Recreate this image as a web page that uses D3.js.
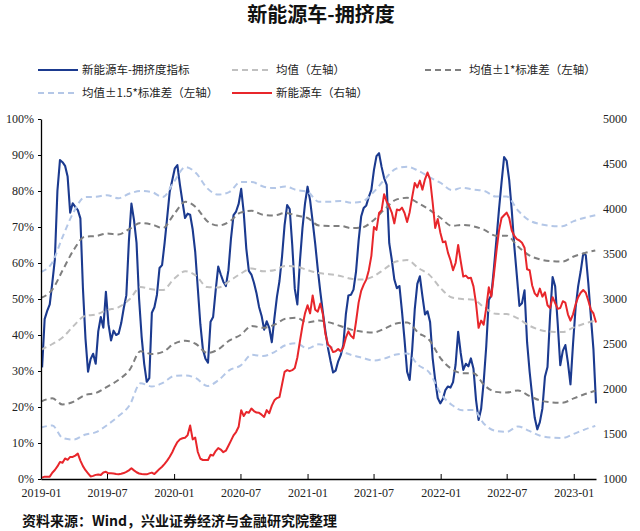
<!DOCTYPE html>
<html>
<head>
<meta charset="utf-8">
<script src="https://cdn.jsdelivr.net/npm/d3@7"></script>
<style>
  body { margin: 0; background: #fff; }
  svg { display: block; }
</style>
</head>
<body>
<div id="chart"></div>
<script>
// weekly series, first week ending 2019-01-04
var weekStart = "2019-01-04";

// 新能源车-拥挤度指标 (%), left axis
var crowding = [
  31, 44.4, 46.7, 48.5, 54.5, 61, 80, 88.6, 88, 87,
  84, 74, 76.6, 75.6, 74.7, 72.4, 53, 39, 29.8, 33.3,
  34.8, 32, 41, 45, 42, 52, 43, 38.5, 41.2, 40,
  40.4, 43.3, 47.5, 51, 66, 76.5, 72, 65.6, 50, 39.5,
  32, 27, 28, 46.2, 47.7, 51.2, 58.6, 59.4, 65.6, 72.6,
  79.8, 83, 86.3, 87.2, 81.7, 77, 72.5, 73.7, 73.4, 69.3,
  63, 53, 43, 36, 33.4, 32.3, 43.7, 45, 52.4, 59,
  56.8, 54.8, 53.6, 58, 66.8, 73.3, 74.3, 76.4, 80.6, 74,
  64, 57.8, 56.8, 54.5, 51.6, 47.8, 45.3, 41.5, 43.8, 42,
  38, 44.6, 50.6, 55, 61.8, 70.5, 76.1, 75, 65, 52.8,
  48.5, 60.4, 69.6, 76.5, 81.2, 77.4, 71.5, 65.3, 58.3, 52,
  46.3, 41, 36.4, 32.8, 29.6, 30.1, 32.7, 34.4, 37.2, 45.7,
  51, 51.2, 52.6, 57.7, 66.2, 72.9, 75.3, 76, 78.4, 80.3,
  85.8, 89.7, 90.5, 86.7, 83.6, 81.7, 65.5, 60.9, 55.4, 53,
  53.6, 46.5, 38.6, 29.8, 27.5, 36, 47.2, 54.2, 56.3, 50.8,
  45.7, 46.6, 43.6, 33.6, 27.5, 22.5, 21, 22.2, 24.7, 25.7,
  25.4, 26.9, 31.8, 40.9, 35, 30.3, 32, 31.3, 33.5, 30.6,
  22, 16.4, 19.5, 27, 36.8, 49.7, 51.1, 58.5, 66.6, 74.9,
  82.4, 89.4, 88.4, 83, 74.6, 64.6, 56.4, 48.1, 48.8, 52.4,
  38, 29.8, 23, 17, 13.8, 15.8, 19.6, 28.4, 31.1, 45.2,
  56.1, 53.5, 43.2, 31.6, 35.6, 37.2, 32.3, 26.3, 37.5, 47.5,
  53.5, 57.7, 62.6, 62.2, 54.3, 45, 36, 21
];

// 新能源车 index, right axis
var nevIndex = [
  1015, 1026, 1026, 1026, 1070, 1100, 1140, 1190, 1180, 1228,
  1213, 1245, 1245, 1260, 1282, 1205, 1143, 1098, 1063, 1028,
  1035, 1046, 1051, 1044, 1073, 1080, 1063, 1063, 1062, 1056,
  1053, 1059, 1066, 1079, 1096, 1119, 1096, 1075, 1061, 1055,
  1052, 1052, 1062, 1071, 1055, 1083, 1112, 1136, 1168, 1204,
  1247, 1297, 1359, 1410, 1440, 1453, 1459, 1485, 1595, 1440,
  1460, 1300, 1225, 1211, 1211, 1211, 1270, 1260, 1310, 1344,
  1327, 1298, 1314, 1370, 1426, 1485, 1522, 1580, 1765, 1700,
  1745, 1736, 1783, 1755, 1738, 1735, 1715, 1690, 1765, 1730,
  1815, 1874, 1899, 1910, 2050, 2190, 2210, 2198, 2209, 2234,
  2350, 2530, 2700, 2840, 2930, 2840, 3040, 2880, 2860, 2950,
  2830, 2610, 2495, 2470, 2410, 2420, 2445, 2420, 2460, 2570,
  2640, 2590, 2563, 2750, 2960, 3090, 3160, 3215, 3320, 3480,
  3800, 3767, 3955, 3985, 4165, 4080, 4030, 3960, 3840, 3995,
  3985, 4015, 3955, 3855, 3965, 4135, 4290, 4240, 4315, 4215,
  4330, 4405, 4330, 4075, 3790, 3890, 3740, 3630, 3640, 3515,
  3430, 3320, 3400, 3600, 3420, 3250, 3260, 3230, 3235, 3140,
  2950, 2680, 2760, 2715, 2900, 3130, 3026, 3270, 3530, 3760,
  3900, 3930, 3960, 3900, 3760, 3700, 3665, 3650, 3625, 3570,
  3330, 3320, 3150, 3062, 3030, 3115, 3026, 3075, 2930, 2900,
  3020, 2955, 2890, 2900, 2975, 2960, 2830, 2760, 2830, 2940,
  3020, 3070, 3100, 3070, 2980, 2880, 2840, 2740
];

// monthly rolling mean / std of the crowding index, from 2019-01
var bandStart = "2019-01-01";
var meanVals = [
  35.9, 37.5, 39.3, 42.6, 45.3, 45.7, 46.9, 47.7, 49.9, 53.3,
  52.7, 52.5, 55.6, 57.7, 56.5, 53.3, 53.2, 55, 57, 58.5,
  57.7, 58, 59.2, 59, 58, 57.2, 56.9, 56.4, 55.6, 55.4,
  56.3, 58.4, 60.4, 60.8, 58.6, 56.7, 53, 50.4, 50, 49.8,
  47.6, 45.9, 45.8, 44.6, 42.6, 41.4, 40.9, 40.8, 42.1, 43.2, 44
];
var stdVals = [
  14.4, 15.1, 18.6, 21.1, 22, 21.8, 21.3, 20.2, 19.6, 17.8,
  18, 17.2, 18, 19.3, 19, 18.3, 17.2, 16.5, 17, 16,
  15.7, 15.2, 14.7, 14.2, 14.5, 13.2, 13.4, 13.9, 14.1, 14.5,
  15.6, 16.6, 17.2, 17.3, 18, 18.1, 19.5, 19.9, 20.6, 20.4,
  21.6, 21.7, 21.8, 20, 19.5, 19.6, 19.6, 19.6, 19.7, 19.6, 19.5
];

var xTickLabels = ["2019-01", "2019-07", "2020-01", "2020-07", "2021-01",
  "2021-07", "2022-01", "2022-07", "2023-01"];
var leftTicks = [0, 10, 20, 30, 40, 50, 60, 70, 80, 90, 100];
var rightTicks = [1000, 1500, 2000, 2500, 3000, 3500, 4000, 4500, 5000];

var width = 640, height = 531;
var plotLeft = 41, plotRight = 596, plotTop = 119, plotBottom = 479;

var parse = d3.timeParse("%Y-%m-%d");
var wk0 = parse(weekStart);
var weekDates = crowding.map(function (d, i) { return d3.timeDay.offset(wk0, 7 * i); });
var mo0 = parse(bandStart);
var monthDates = meanVals.map(function (d, i) { return d3.timeMonth.offset(mo0, i); });

var svg = d3.select("#chart").append("svg")
  .attr("width", width).attr("height", height);

var x = d3.scaleTime()
  .domain([parse("2019-01-01"), weekDates[weekDates.length - 1]])
  .range([plotLeft, plotRight]);
var yL = d3.scaleLinear().domain([0, 100]).range([plotBottom, plotTop]);
var yR = d3.scaleLinear().domain([1000, 5000]).range([plotBottom, plotTop]);

var serif = "'Liberation Serif', 'DejaVu Serif', serif";
var cjk = "'Noto Sans CJK SC', sans-serif";

// title
svg.append("text")
  .attr("x", 321).attr("y", 22)
  .attr("text-anchor", "middle")
  .style("font-family", cjk).style("font-size", "20px").style("font-weight", "bold")
  .style("fill", "#111")
  .text("新能源车-拥挤度");

// bands
var bandDefs = [
  { k: 0, color: "#c0c0c0" },
  { k: 1, color: "#7f7f7f" },
  { k: -1, color: "#7f7f7f" },
  { k: 1.5, color: "#b4c7e7" },
  { k: -1.5, color: "#b4c7e7" }
];

// crowding line
svg.append("path")
  .datum(crowding)
  .attr("fill", "none")
  .attr("stroke", "#1b3a8f")
  .attr("stroke-width", 2.1)
  .attr("stroke-linejoin", "round")
  .attr("d", d3.line()
    .x(function (d, i) { return x(weekDates[i]); })
    .y(function (d) { return yL(d); }));

bandDefs.forEach(function (b) {
  svg.append("path")
    .datum(meanVals)
    .attr("fill", "none")
    .attr("stroke", b.color)
    .attr("stroke-width", 2)
    .attr("stroke-dasharray", "6,4")
    .attr("d", d3.line().curve(d3.curveMonotoneX)
      .x(function (d, i) { return x(monthDates[i]); })
      .y(function (d, i) { return yL(d + b.k * stdVals[i]); }));
});

// NEV index line (right axis)
svg.append("path")
  .datum(nevIndex)
  .attr("fill", "none")
  .attr("stroke", "#e8262b")
  .attr("stroke-width", 2)
  .attr("stroke-linejoin", "round")
  .attr("d", d3.line()
    .x(function (d, i) { return x(weekDates[i]); })
    .y(function (d) { return yR(d); }));

// axes
var xTicks = xTickLabels.map(function (s) { return parse(s + "-01"); });
var xAxis = svg.append("g")
  .attr("transform", "translate(0," + plotBottom + ")")
  .call(d3.axisBottom(x).tickValues(xTicks)
    .tickFormat(d3.timeFormat("%Y-%m"))
    .tickSizeInner(-5).tickSizeOuter(0).tickPadding(9));

var yAxisL = svg.append("g")
  .attr("transform", "translate(" + plotLeft + ",0)")
  .call(d3.axisLeft(yL).tickValues(leftTicks)
    .tickFormat(function (d) { return d + "%"; })
    .tickSizeInner(3).tickSizeOuter(0).tickPadding(4));

var yAxisR = svg.append("g")
  .attr("transform", "translate(" + plotRight + ",0)")
  .call(d3.axisRight(yR).tickValues(rightTicks)
    .tickFormat(d3.format("d"))
    .tickSize(0).tickPadding(7));
yAxisR.select(".domain").remove();

[xAxis, yAxisL, yAxisR].forEach(function (g) {
  g.selectAll("text")
    .style("font-family", serif).style("font-size", "12px").style("fill", "#222");
  g.selectAll("line").attr("stroke", "#000");
  g.select(".domain").attr("stroke", "#000").attr("stroke-width", 1.3);
});
yAxisL.selectAll("text").attr("dy", "0.3em");

// legend
var legendItems = [
  { label: "新能源车-拥挤度指标", color: "#1b3a8f", dash: null, x: 38, y: 70 },
  { label: "均值（左轴）", color: "#c0c0c0", dash: "6,4", x: 232, y: 70 },
  { label: "均值±1*标准差（左轴）", color: "#7f7f7f", dash: "6,4", x: 425, y: 70 },
  { label: "均值±1.5*标准差（左轴）", color: "#b4c7e7", dash: "6,4", x: 38, y: 93 },
  { label: "新能源车（右轴）", color: "#e8262b", dash: null, x: 232, y: 93 }
];
var lg = svg.append("g");
legendItems.forEach(function (it) {
  lg.append("line")
    .attr("x1", it.x).attr("x2", it.x + 40)
    .attr("y1", it.y).attr("y2", it.y)
    .attr("stroke", it.color).attr("stroke-width", 2)
    .attr("stroke-dasharray", it.dash);
  lg.append("text")
    .attr("x", it.x + 44).attr("y", it.y + 4)
    .style("font-family", cjk).style("font-size", "11.5px").style("fill", "#222")
    .text(it.label);
});

// source
svg.append("text")
  .attr("x", 22).attr("y", 526)
  .style("font-family", cjk).style("font-size", "14px").style("font-weight", "bold")
  .style("fill", "#111")
  .text("资料来源：Wind，兴业证券经济与金融研究院整理");
</script>
</body>
</html>
